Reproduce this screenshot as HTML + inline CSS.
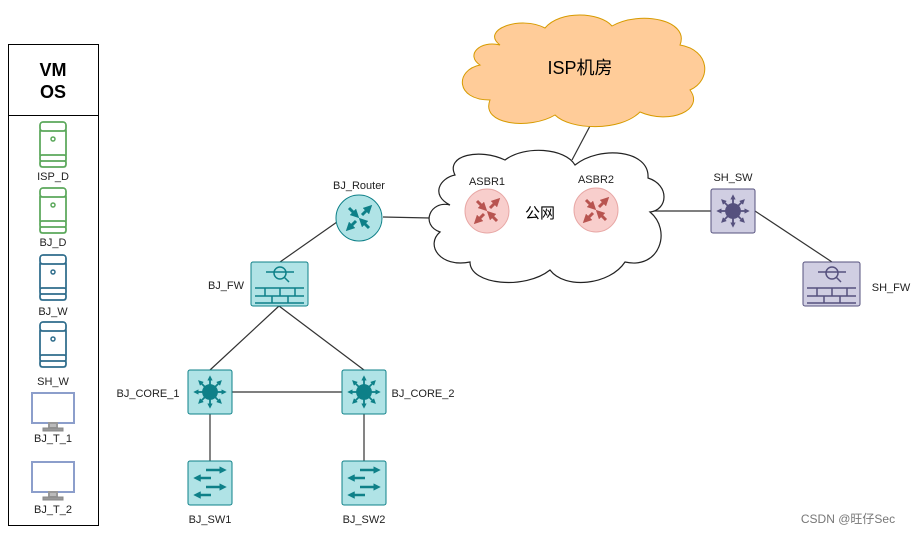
<!DOCTYPE html>
<html><head><meta charset="utf-8"><style>
html,body{margin:0;padding:0;background:#fff;}
svg{display:block;font-family:"Liberation Sans","Noto Sans CJK SC",sans-serif;}
</style></head><body>
<svg width="917" height="535" viewBox="0 0 917 535" xmlns="http://www.w3.org/2000/svg">
<defs>
<marker id="mt" viewBox="0 0 10 10" refX="5" refY="5" markerWidth="3" markerHeight="3" orient="auto"><path d="M0,0 L10,5 L0,10 Z" fill="#0e8088"/></marker>
<marker id="mr" viewBox="0 0 10 10" refX="5" refY="5" markerWidth="3" markerHeight="3" orient="auto"><path d="M0,0 L10,5 L0,10 Z" fill="#b85450"/></marker>
<marker id="mp" viewBox="0 0 10 10" refX="5" refY="5" markerWidth="3" markerHeight="3" orient="auto"><path d="M0,0 L10,5 L0,10 Z" fill="#56517e"/></marker>
<g id="srv"><rect x="0" y="0" width="26" height="45" rx="3" fill="#fff"/><rect x="0" y="0" width="26" height="9" rx="3" fill="none"/><rect x="0" y="9" width="26" height="24" fill="none"/><circle cx="13" cy="17" r="2" fill="none"/><rect x="0" y="33" width="26" height="6" rx="2" fill="none"/><rect x="0" y="39" width="26" height="6" rx="2" fill="none"/></g>
<g id="mon" fill="#fff" stroke="#8c9ecb" stroke-width="2"><rect x="0" y="0" width="42" height="30"/><rect x="17" y="30" width="8" height="5" fill="#bbb" stroke="#999"/><rect x="11" y="35" width="20" height="3" fill="#999" stroke="#888" stroke-width="1"/></g>
<g id="rt"><path d="M-9,-9 L-3,-3 M9,-9 L3,-3 M-9,9 L-3,3 M9,9 L3,3" fill="none"/></g>
</defs>

<!-- left panel -->
<rect x="8.5" y="44.5" width="90" height="481" fill="#fff" stroke="#000"/>
<line x1="8.5" y1="115.5" x2="98.5" y2="115.5" stroke="#000"/>
<text x="53" y="76" font-size="18" font-weight="bold" text-anchor="middle">VM</text>
<text x="53" y="98" font-size="18" font-weight="bold" text-anchor="middle">OS</text>
<g stroke="#5ba85b" stroke-width="1.5"><use href="#srv" x="40" y="122"/><use href="#srv" x="40" y="188"/></g>
<g stroke="#2f6d8c" stroke-width="1.5"><use href="#srv" x="40" y="255"/><use href="#srv" x="40" y="322"/></g>
<use href="#mon" x="32" y="393"/><use href="#mon" x="32" y="462"/>
<g font-size="11" text-anchor="middle" fill="#222">
<text x="53" y="180">ISP_D</text><text x="53" y="246">BJ_D</text><text x="53" y="315">BJ_W</text><text x="53" y="385">SH_W</text><text x="53" y="442">BJ_T_1</text><text x="53" y="513">BJ_T_2</text>
</g>

<!-- lines -->
<g stroke="#333" stroke-width="1.2" fill="none">
<line x1="590" y1="126" x2="572" y2="160"/>
<line x1="383" y1="217" x2="430" y2="218"/>
<line x1="280" y1="262" x2="337" y2="222"/>
<line x1="279" y1="306" x2="210" y2="370"/>
<line x1="279" y1="306" x2="364" y2="370"/>
<line x1="232" y1="392" x2="342" y2="392"/>
<line x1="210" y1="414" x2="210" y2="461"/>
<line x1="364" y1="414" x2="364" y2="461"/>
<line x1="640" y1="211" x2="711" y2="211"/>
<line x1="755" y1="211" x2="832" y2="262"/>
</g>

<!-- ISP cloud -->
<path d="M500,45 C480,30 520,15 545,28 C560,10 600,12 612,26 C640,10 690,20 680,45 C710,50 712,80 690,90 C705,110 670,125 640,112 C620,132 570,130 555,115 C530,130 480,125 490,100 C455,100 455,70 480,65 C465,55 480,40 500,45 Z" fill="#ffcc99" stroke="#d79b00" stroke-width="1"/>
<text x="580" y="74" font-size="18" text-anchor="middle">ISP机房</text>

<!-- public cloud -->
<path d="M455,175 C445,155 480,148 505,160 C525,145 565,148 575,165 C600,145 650,150 648,178 C670,185 668,210 650,212 C672,230 660,270 625,262 C610,285 565,290 550,270 C525,290 470,285 470,262 C440,268 425,245 440,232 C420,225 430,200 450,205 C430,195 440,178 455,175 Z" fill="#fff" stroke="#222" stroke-width="1.2"/>
<text x="540" y="218" font-size="15" text-anchor="middle">公网</text>

<!-- routers -->
<circle cx="487" cy="211" r="22" fill="#f8cecc" stroke="#e8a8a6"/>
<circle cx="596" cy="210" r="22" fill="#f8cecc" stroke="#e8a8a6"/>
<circle cx="359" cy="218" r="23" fill="#b0e3e6" stroke="#0e8088"/>
<g stroke-width="3" fill="none">
<g stroke="#b85450">
<path d="M477,201 L484,208" marker-end="url(#mr)"/><path d="M490,208 L497,201" marker-end="url(#mr)"/><path d="M484,214 L477,221" marker-end="url(#mr)"/><path d="M497,221 L490,214" marker-end="url(#mr)"/>
<path d="M586,200 L593,207" marker-end="url(#mr)"/><path d="M599,207 L606,200" marker-end="url(#mr)"/><path d="M593,213 L586,220" marker-end="url(#mr)"/><path d="M606,220 L599,213" marker-end="url(#mr)"/>
</g>
<g stroke="#0e8088">
<path d="M349,208 L356,215" marker-end="url(#mt)"/><path d="M362,215 L369,208" marker-end="url(#mt)"/><path d="M356,221 L349,228" marker-end="url(#mt)"/><path d="M369,228 L362,221" marker-end="url(#mt)"/>
</g>
</g>
<g font-size="11" text-anchor="middle" fill="#222">
<text x="487" y="185">ASBR1</text><text x="596" y="183">ASBR2</text><text x="359" y="189">BJ_Router</text>
</g>

<!-- firewalls -->
<rect x="251" y="262" width="57" height="44" rx="2" fill="#b0e3e6" stroke="#0e8088"/>
<g stroke="#0e8088" stroke-width="1.5" fill="none"><circle cx="280" cy="273" r="6"/><line x1="266" y1="272" x2="294" y2="272"/><line x1="284" y1="277" x2="289" y2="282"/><path d="M255,288 H304 M255,296 H304 M255,303 H304 M265,288 V296 M280,288 V296 M295,288 V296 M272,296 V303 M288,296 V303"/></g>
<rect x="803" y="262" width="57" height="44" rx="2" fill="#d0cee2" stroke="#56517e"/>
<g stroke="#56517e" stroke-width="1.5" fill="none"><circle cx="832" cy="273" r="6"/><line x1="818" y1="272" x2="846" y2="272"/><line x1="836" y1="277" x2="841" y2="282"/><path d="M807,288 H856 M807,296 H856 M807,303 H856 M817,288 V296 M832,288 V296 M847,288 V296 M824,296 V303 M840,296 V303"/></g>

<!-- core switches -->
<rect x="188" y="370" width="44" height="44" rx="2" fill="#b0e3e6" stroke="#0e8088"/>
<rect x="342" y="370" width="44" height="44" rx="2" fill="#b0e3e6" stroke="#0e8088"/>
<rect x="711" y="189" width="44" height="44" rx="2" fill="#d0cee2" stroke="#56517e"/>
<g stroke="#0e8088" stroke-width="1.8" fill="none">
<circle cx="210" cy="392" r="7" fill="#0e8088"/>
<path d="M210,392 V378" marker-end="url(#mt)"/><path d="M210,392 V406" marker-end="url(#mt)"/><path d="M210,392 H196" marker-end="url(#mt)"/><path d="M210,392 H224" marker-end="url(#mt)"/><path d="M210,392 L200,382" marker-end="url(#mt)"/><path d="M210,392 L220,382" marker-end="url(#mt)"/><path d="M210,392 L200,402" marker-end="url(#mt)"/><path d="M210,392 L220,402" marker-end="url(#mt)"/>
<circle cx="364" cy="392" r="7" fill="#0e8088"/>
<path d="M364,392 V378" marker-end="url(#mt)"/><path d="M364,392 V406" marker-end="url(#mt)"/><path d="M364,392 H350" marker-end="url(#mt)"/><path d="M364,392 H378" marker-end="url(#mt)"/><path d="M364,392 L354,382" marker-end="url(#mt)"/><path d="M364,392 L374,382" marker-end="url(#mt)"/><path d="M364,392 L354,402" marker-end="url(#mt)"/><path d="M364,392 L374,402" marker-end="url(#mt)"/>
</g>
<g stroke="#56517e" stroke-width="1.8" fill="none">
<circle cx="733" cy="211" r="7" fill="#56517e"/>
<path d="M733,211 V197" marker-end="url(#mp)"/><path d="M733,211 V225" marker-end="url(#mp)"/><path d="M733,211 H719" marker-end="url(#mp)"/><path d="M733,211 H747" marker-end="url(#mp)"/><path d="M733,211 L723,201" marker-end="url(#mp)"/><path d="M733,211 L743,201" marker-end="url(#mp)"/><path d="M733,211 L723,221" marker-end="url(#mp)"/><path d="M733,211 L743,221" marker-end="url(#mp)"/>
</g>

<!-- access switches -->
<rect x="188" y="461" width="44" height="44" rx="2" fill="#b0e3e6" stroke="#0e8088"/>
<rect x="342" y="461" width="44" height="44" rx="2" fill="#b0e3e6" stroke="#0e8088"/>
<g stroke="#0e8088" stroke-width="2.5" fill="none">
<path d="M206,470 H223" marker-end="url(#mt)"/><path d="M211,478 H197" marker-end="url(#mt)"/><path d="M206,487 H223" marker-end="url(#mt)"/><path d="M211,495 H197" marker-end="url(#mt)"/>
<path d="M360,470 H377" marker-end="url(#mt)"/><path d="M365,478 H351" marker-end="url(#mt)"/><path d="M360,487 H377" marker-end="url(#mt)"/><path d="M365,495 H351" marker-end="url(#mt)"/>
</g>

<g font-size="11" fill="#222" text-anchor="middle">
<text x="226" y="289">BJ_FW</text>
<text x="148" y="397">BJ_CORE_1</text>
<text x="423" y="397">BJ_CORE_2</text>
<text x="210" y="523">BJ_SW1</text>
<text x="364" y="523">BJ_SW2</text>
<text x="733" y="181">SH_SW</text>
<text x="891" y="291">SH_FW</text>
</g>
<text x="848" y="523" font-size="12" fill="#777" text-anchor="middle">CSDN @旺仔Sec</text>
</svg>
</body></html>
